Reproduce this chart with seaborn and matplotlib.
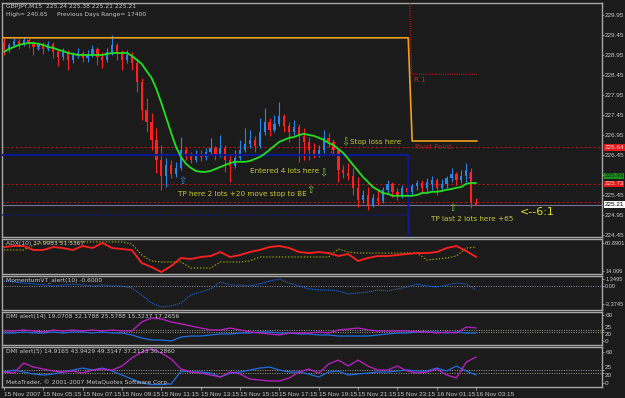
import matplotlib
matplotlib.use("Agg")
import matplotlib.pyplot as plt
import matplotlib.transforms as mtransforms
import numpy as np
import pandas as pd
import seaborn as sns

sns.set_theme(style="dark")
plt.rcParams['font.family'] = ['DejaVu Sans']
NARROW = ['Liberation Sans Narrow', 'Liberation Sans', 'DejaVu Sans']

# ---------------- data (GBPJPY M15, 15 Nov 2007 03:15 -> 16 Nov 03:15) ----------------
opens = [229.28, 229.08, 229.20, 229.30, 229.20, 229.33, 229.25, 229.15, 229.23, 229.10,
         229.23, 229.03, 228.90, 229.03, 228.83, 228.95, 229.00, 228.88, 228.98, 229.10,
         228.90, 228.83, 229.03, 229.20, 228.98, 228.83, 228.95, 228.75, 228.28, 227.58,
         227.28, 226.83, 226.33, 225.93, 226.20, 225.98, 226.13, 226.58, 226.43, 226.33,
         226.48, 226.40, 226.53, 226.63, 226.45, 226.63, 226.33, 226.18, 226.38, 226.58,
         226.73, 226.83, 226.68, 227.03, 227.28, 227.08, 227.23, 227.43, 227.18, 227.03,
         227.15, 226.93, 226.78, 226.58, 226.45, 226.58, 226.88, 226.78, 226.58, 226.08,
         226.00, 225.93, 225.63, 225.33, 225.45, 225.20, 225.38, 225.30, 225.58, 225.73,
         225.53, 225.45, 225.63, 225.53, 225.68, 225.75, 225.63, 225.73, 225.83, 225.63,
         225.73, 225.88, 225.98, 225.83, 225.93, 226.03, 225.24]
highs = [229.38, 229.25, 229.38, 229.35, 229.40, 229.38, 229.30, 229.28, 229.28, 229.30,
         229.28, 229.10, 229.13, 229.08, 229.03, 229.13, 229.05, 229.08, 229.20, 229.15,
         229.03, 229.13, 229.45, 229.25, 229.08, 229.08, 229.03, 228.88, 228.38, 227.88,
         227.50, 227.13, 226.70, 226.38, 226.33, 226.28, 226.90, 226.65, 226.53, 226.58,
         226.58, 226.63, 226.88, 226.68, 226.95, 226.70, 226.45, 226.58, 226.83, 227.13,
         227.08, 226.93, 227.38, 227.63, 227.38, 227.45, 227.78, 227.48, 227.28, 227.33,
         227.23, 227.13, 226.90, 226.75, 226.70, 227.08, 227.00, 226.85, 226.63, 226.20,
         226.25, 226.13, 225.90, 225.58, 225.65, 225.48, 225.58, 225.65, 225.83, 225.78,
         225.63, 225.70, 225.68, 225.73, 225.83, 225.83, 225.88, 225.93, 225.88, 225.85,
         225.93, 226.13, 226.03, 226.08, 226.25, 226.13, 225.38]
lows = [228.95, 229.03, 229.15, 229.10, 229.18, 229.13, 228.95, 229.08, 228.98, 229.05,
        228.88, 228.68, 228.83, 228.58, 228.75, 228.88, 228.78, 228.78, 228.90, 228.70,
        228.63, 228.78, 228.95, 228.83, 228.58, 228.75, 228.58, 228.03, 227.33, 227.03,
        226.58, 226.00, 225.58, 225.65, 225.88, 225.90, 226.08, 226.33, 226.25, 226.28,
        226.30, 226.33, 226.45, 226.33, 226.40, 226.03, 225.78, 226.13, 226.33, 226.53,
        226.63, 226.53, 226.63, 226.95, 226.93, 227.03, 227.18, 227.03, 226.78, 226.95,
        226.28, 226.33, 226.33, 226.38, 226.40, 226.50, 226.65, 226.45, 225.78, 225.88,
        225.83, 225.45, 225.15, 225.25, 225.08, 225.15, 225.20, 225.25, 225.50, 225.40,
        225.33, 225.38, 225.43, 225.45, 225.58, 225.50, 225.53, 225.58, 225.45, 225.58,
        225.63, 225.78, 225.70, 225.75, 225.78, 225.13, 225.21]
closes = [229.08, 229.20, 229.30, 229.20, 229.33, 229.25, 229.15, 229.23, 229.10, 229.23,
          229.03, 228.90, 229.03, 228.83, 228.95, 229.00, 228.88, 228.98, 229.10, 228.90,
          228.83, 229.03, 229.20, 228.98, 228.83, 228.95, 228.75, 228.28, 227.58, 227.28,
          226.83, 226.33, 225.93, 226.20, 225.98, 226.13, 226.58, 226.43, 226.33, 226.48,
          226.40, 226.53, 226.63, 226.45, 226.63, 226.33, 226.18, 226.38, 226.58, 226.73,
          226.83, 226.68, 227.03, 227.28, 227.08, 227.23, 227.43, 227.18, 227.03, 227.15,
          226.93, 226.78, 226.58, 226.45, 226.58, 226.88, 226.78, 226.58, 226.08, 226.00,
          225.93, 225.63, 225.33, 225.45, 225.20, 225.38, 225.30, 225.58, 225.73, 225.53,
          225.45, 225.63, 225.53, 225.68, 225.75, 225.63, 225.78, 225.83, 225.63, 225.73,
          225.88, 225.98, 225.83, 225.93, 226.08, 225.25, 225.21]
ma_line = [229.03, 229.10, 229.15, 229.20, 229.23, 229.25, 229.25, 229.23, 229.20, 229.15,
           229.13, 229.08, 229.05, 229.00, 228.98, 228.95, 228.95, 228.95, 228.95, 228.95,
           228.95, 228.98, 229.00, 229.00, 229.00, 229.00, 228.93, 228.83, 228.73, 228.55,
           228.38, 228.10, 227.75, 227.38, 227.00, 226.65, 226.40, 226.23, 226.13, 226.05,
           226.03, 226.03, 226.05, 226.10, 226.15, 226.20, 226.25, 226.28, 226.28, 226.28,
           226.30, 226.35, 226.40, 226.48, 226.58, 226.68, 226.78, 226.83, 226.88, 226.90,
           226.95, 226.98, 226.95, 226.93, 226.88, 226.83, 226.75, 226.70, 226.60, 226.50,
           226.35, 226.20, 226.05, 225.90, 225.78, 225.65, 225.58, 225.50, 225.48, 225.43,
           225.43, 225.43, 225.43, 225.43, 225.45, 225.50, 225.50, 225.53, 225.53, 225.55,
           225.58, 225.60, 225.63, 225.65, 225.73, 225.75, 225.75]

# daily levels (previous day -> new day from bar 83 = 16 Nov 00:00)
day_break = 83
last_bar = 96
pivot_levels = [229.38, 226.80]
r1_levels = [231.20, 228.47]
level_a = [226.45, 223.80]
level_b = [224.95, 223.80]
hlines_red = [226.64, 225.73, 225.28]
bid_price = 225.21

price_ticks = [229.95, 229.45, 228.95, 228.45, 227.95, 227.45, 226.95, 226.45,
               225.95, 225.45, 224.95, 224.45]
hidden_ticks = [225.95]
boxed_prices = ["226.64", "225.93", "225.73", "225.21"]
boxed_values = [226.64, 225.93, 225.73, 225.21]

# indicators sampled every second bar
adx_main = [54.2, 55.9, 55.9, 49.2, 49.2, 54.2, 52.5, 49.2, 55.9, 52.5,
            60.9, 52.5, 50.8, 49.2, 27.4, 20.7, 12.3, 22.4, 35.8, 34.1,
            37.5, 39.1, 45.8, 37.5, 40.8, 45.8, 49.2, 54.2, 55.9, 52.5,
            45.8, 44.1, 45.8, 44.1, 39.1, 42.5, 30.8, 35.8, 39.1, 39.1,
            40.8, 42.5, 44.1, 44.1, 45.8, 52.5, 55.9, 47.5, 37.5]
adx_signal = [49.2, 49.2, 49.2, 57.5, 62.6, 62.6, 62.6, 62.6, 62.6, 62.6,
              62.6, 62.6, 62.6, 59.2, 40.8, 30.8, 29.1, 29.1, 29.1, 19.0,
              19.0, 19.0, 29.1, 29.1, 29.1, 30.8, 37.5, 37.5, 37.5, 37.5,
              37.5, 37.5, 37.5, 37.5, 50.8, 45.8, 44.1, 44.1, 44.1, 44.1,
              44.1, 44.1, 44.1, 32.4, 34.1, 35.8, 39.1, 52.5, 54.2]
momentum = [0.94, 0.75, 0.56, 0.38, 0.19, 0.0, 0.19, 0.38, 0.19, 0.0,
            0.19, 0.0, 0.0, -0.38, -1.69, -3.19, -3.94, -3.75, -3.19, -1.69,
            -1.13, -0.56, 0.75, 0.19, 0.19, 0.0, 0.38, 0.94, 1.31, 0.56,
            0.0, -0.56, -0.75, -0.75, -0.94, -1.5, -1.31, -1.13, -0.75, -0.94,
            -0.56, -0.19, 0.38, 0.0, -0.19, 0.19, 0.56, 0.38, -0.75]
dmi14_plus = [23.1, 23.1, 25.4, 23.1, 20.8, 25.4, 23.1, 25.4, 23.1, 25.4,
              23.1, 25.4, 23.1, 23.1, 43.9, 53.1, 50.8, 43.9, 39.3, 34.6,
              30.0, 25.4, 25.4, 30.0, 25.4, 20.8, 18.5, 16.2, 13.9, 18.5,
              18.5, 18.5, 20.8, 18.5, 25.4, 27.7, 30.0, 25.4, 23.1, 23.1,
              23.1, 23.1, 20.8, 20.8, 18.5, 20.8, 18.5, 32.3, 30.0]
dmi14_minus = [18.5, 18.5, 20.8, 18.5, 18.5, 20.8, 18.5, 20.8, 20.8, 18.5,
               20.8, 18.5, 18.5, 13.9, 6.9, 2.3, 2.3, 0.0, 9.2, 11.5,
               11.5, 13.9, 16.2, 16.2, 18.5, 18.5, 20.8, 20.8, 18.5, 18.5,
               16.2, 16.2, 13.9, 13.9, 11.5, 11.5, 11.5, 11.5, 13.9, 16.2,
               18.5, 18.5, 20.8, 20.8, 20.8, 18.5, 20.8, 18.5, 18.5]
dmi5_plus = [21.3, 19.3, 38.7, 30.9, 27.1, 23.2, 21.3, 23.2, 19.3, 25.1,
             27.1, 25.1, 32.9, 48.4, 60.0, 65.8, 58.0, 46.4, 27.1, 21.3,
             19.3, 15.5, 11.6, 21.3, 17.4, 7.7, 5.8, 3.9, 3.9, 9.7,
             21.3, 27.1, 19.3, 36.8, 44.5, 32.9, 44.5, 32.9, 25.1, 25.1,
             32.9, 23.2, 19.3, 21.3, 27.1, 15.5, 9.7, 40.6, 50.3]
dmi5_minus = [21.3, 25.1, 21.3, 17.4, 15.5, 17.4, 21.3, 25.1, 29.0, 25.1,
              29.0, 23.2, 15.5, 7.7, 0.0, -3.0, -3.0, -1.9, 23.2, 21.3,
              21.3, 19.3, 11.6, 19.3, 21.3, 25.1, 29.0, 30.9, 25.1, 21.3,
              21.3, 17.4, 11.6, 21.3, 23.2, 15.5, 17.4, 19.3, 21.3, 21.3,
              23.2, 25.1, 23.2, 23.2, 29.0, 23.2, 32.9, 23.2, 15.5]

time_labels = ["15 Nov 2007", "15 Nov 05:15", "15 Nov 07:15", "15 Nov 09:15",
               "15 Nov 11:15", "15 Nov 13:15", "15 Nov 15:15", "15 Nov 17:15",
               "15 Nov 19:15", "15 Nov 21:15", "15 Nov 23:15", "16 Nov 01:15",
               "16 Nov 03:15"]
time_label_bars = [0, 8, 16, 24, 32, 40, 48, 56, 64, 72, 80, 88, 96]

# ---------------- styling ----------------
BG = '#1b1b1b'
FRAME = '#a8a8a8'
TXT = '#c8c8c8'
RED = '#ff2020'
BLUE = '#2a86e6'
NOTE = '#c8c83c'
W, H = 625, 398
XMIN, XMAX = -0.4, 121.6

fig = plt.figure(figsize=(W / 100, H / 100), dpi=100, facecolor=BG)


def panel(top, bottom, labelsize=4.6):
    ax = fig.add_axes([2 / W, 1 - bottom / H, 600 / W, (bottom - top) / H])
    ax.set_facecolor(BG)
    for s in ax.spines.values():
        s.set_color(FRAME)
        s.set_linewidth(1.0)
    ax.grid(False)
    ax.set_xlim(XMIN, XMAX)
    ax.yaxis.tick_right()
    ax.tick_params(axis='x', bottom=False, labelbottom=False)
    ax.tick_params(axis='y', right=True, left=False, labelleft=False, labelright=True,
                   length=1.5, width=0.6, color=FRAME, labelsize=labelsize, labelcolor=TXT,
                   pad=0.8, direction='out')
    return ax


def narrow_labels(ax):
    for t in ax.get_yticklabels():
        t.set_fontfamily(NARROW)


bars = np.arange(len(closes))
df = pd.DataFrame({'bar': bars, 'open': opens, 'high': highs, 'low': lows,
                   'close': closes, 'ma': ma_line})

# ---------------- main price panel ----------------
ax = panel(3, 237)
ax.set_ylim(224.40, 230.25)
ax.set_yticks(price_ticks)
ax.set_yticklabels(["" if p in hidden_ticks else f"{p:.2f}" for p in price_ticks])
narrow_labels(ax)

for p in hlines_red:
    ax.axhline(p, color='#b01414', lw=0.8, ls=(0, (2, 2)), zorder=1)
ax.axhline(bid_price, color='#70709a', lw=0.8, zorder=1)

up = df['close'] >= df['open']
cols = np.where(up, BLUE, RED)
ax.vlines(df['bar'], df['low'], df['high'], colors=cols, lw=0.8, zorder=3)
body = (df['close'] - df['open']).where((df['close'] - df['open']).abs() > 0.01, 0.01)
ax.bar(df['bar'], body, bottom=df['open'], width=0.45, color=cols, linewidth=0, zorder=3)

# daily levels
pv_x = [XMIN, day_break - 0.8, day_break, last_bar + 0.2]
ax.plot(pv_x, [pivot_levels[0], pivot_levels[0], pivot_levels[1], pivot_levels[1]],
        color='#f0a020', lw=1.2, zorder=4)
ax.plot([day_break - 0.7, day_break - 0.1, last_bar + 0.2],
        [r1_levels[0], r1_levels[1], r1_levels[1]],
        color='#c01a1a', lw=0.8, ls=(0, (1, 1)), zorder=4)
ax.plot([XMIN, day_break - 0.8, day_break - 0.7], [level_a[0], level_a[0], level_a[1]],
        color='#0c1a8c', lw=1.6, zorder=4)
ax.plot([XMIN, day_break - 0.6, day_break - 0.5], [level_b[0], level_b[0], level_b[1]],
        color='#0c1a8c', lw=1.0, ls=(0, (1, 1)), zorder=4)

sns.lineplot(data=df, x='bar', y='ma', ax=ax, color='#22e022', lw=1.3, legend=False, zorder=5)
ax.set_xlabel('')
ax.set_ylabel('')

blend = mtransforms.blended_transform_factory(ax.transAxes, ax.transData)
box_style = [('#e01818', '#ffd0d0'), ('#1c8c1c', '#103010'), ('#e01818', '#ffd0d0'),
             ('#ffffff', '#000000')]
for lab, val, (bg, fg) in zip(boxed_prices, boxed_values, box_style):
    ax.text(1.004, val, lab, transform=blend, fontsize=4.6, color=fg, va='center', ha='left',
            family=NARROW, bbox=dict(facecolor=bg, edgecolor='none', pad=0.5),
            clip_on=False, zorder=10)

ax.text(0.006, 0.995, "GBPJPY,M15  225.24 225.38 225.21 225.21", transform=ax.transAxes,
        fontsize=4.3, color=TXT, va='top', ha='left')
ax.text(0.006, 0.96, "High= 240.65     Previous Days Range= 17400", transform=ax.transAxes,
        fontsize=4.3, color=TXT, va='top', ha='left')

ax.text(83.4, 228.33, "R 1", fontsize=5, color='#c82828', va='center')
ax.text(83.6, 226.65, "Pivot Point", fontsize=5, color='#a82020', va='center')
ax.text(70.4, 226.77, "Stop loss here", fontsize=5.2, color=NOTE, va='center')
ax.text(50.1, 226.05, "Entered 4 lots here", fontsize=5.2, color=NOTE, va='center')
ax.text(35.4, 225.48, "TP here 2 lots +20 move stop to BE", fontsize=5.2, color=NOTE, va='center')
ax.text(86.8, 224.85, "TP last 2 lots here +65", fontsize=5.2, color=NOTE, va='center')
ax.text(105.0, 225.03, "<--6:1", fontsize=8, color='#e0e020', va='center')
ax.text(69.5, 226.76, "⇩", fontsize=7, color='#7ac83c', va='center', ha='center')
ax.text(64.9, 225.98, "⇩", fontsize=7, color='#7ac83c', va='center', ha='center')
ax.text(62.3, 225.57, "⇧", fontsize=7, color='#7ac83c', va='center', ha='center')
ax.text(91.1, 225.12, "⇧", fontsize=7, color='#7ac83c', va='center', ha='center')
ax.text(36.3, 225.80, "⇧", fontsize=7, color='#3a8ae6', va='center', ha='center')
for bx, by in [(7, 229.13), (66.8, 226.52), (94.7, 225.90)]:
    ax.text(bx, by, "⇩", fontsize=6, color='#e020e0', va='center', ha='center')

ind = pd.DataFrame({'bar': bars[::2], 'adx': adx_main, 'sig': adx_signal, 'mom': momentum,
                    'p14': dmi14_plus, 'm14': dmi14_minus, 'p5': dmi5_plus, 'm5': dmi5_minus})

# ---------------- panel 2 ----------------
ax2 = panel(239.3, 274, labelsize=4.1)
ax2.set_ylim(9.0, 67.1)
ax2.set_yticks([60.8901, 14.006])
ax2.set_yticklabels(["60.8901", "14.006"])
narrow_labels(ax2)
sns.lineplot(data=ind, x='bar', y='sig', ax=ax2, color='#a8a800', lw=0.9, ls=(0, (1, 1.5)), legend=False)
sns.lineplot(data=ind, x='bar', y='adx', ax=ax2, color=RED, lw=1.3, legend=False)
ax2.set_xlabel(''); ax2.set_ylabel('')
ax2.text(0.006, 0.95, "ADX(10) 37.9983 51.5367", transform=ax2.transAxes,
         fontsize=4.3, color=TXT, va='top', ha='left')

# ---------------- panel 3 ----------------
ax3 = panel(275.7, 310, labelsize=4.1)
ax3.set_ylim(-4.5, 1.93)
ax3.set_yticks([1.3495, 0.0, -3.3745])
ax3.set_yticklabels(["1.3495", "0.00", "-3.3745"])
narrow_labels(ax3)
ax3.axhline(0, color='#8a8aa8', lw=0.7, ls=(0, (1, 1.5)))
sns.lineplot(data=ind, x='bar', y='mom', ax=ax3, color='#1e64d2', lw=0.8, ls=(0, (1, 0.8)), legend=False)
ax3.set_xlabel(''); ax3.set_ylabel('')
ax3.text(0.006, 0.95, "MomentumVT_alert(10) -0.6000", transform=ax3.transAxes,
         fontsize=4.3, color=TXT, va='top', ha='left')

# ---------------- panels 4, 5 ----------------
def dmi_panel(top, bottom, lo, hi, plus, minus, label):
    a = panel(top, bottom)
    a.set_ylim(lo, hi)
    a.set_yticks([60, 25, 20, 0])
    a.set_yticklabels(["60", "25", "20", "0"])
    narrow_labels(a)
    tl = a.get_yticklabels()
    tl[1].set_verticalalignment('bottom')
    tl[2].set_verticalalignment('top')
    a.axhline(25, color='#a0a0a0', lw=0.7, ls=(0, (1, 1.5)))
    a.axhline(20, color='#a0a080', lw=0.7, ls=(0, (1, 1.5)))
    sns.lineplot(data=ind, x='bar', y=minus, ax=a, color='#1e6ee0', lw=0.9, legend=False)
    sns.lineplot(data=ind, x='bar', y=plus, ax=a, color='#c020c8', lw=0.9, legend=False)
    a.set_xlabel(''); a.set_ylabel('')
    a.text(0.006, 0.95, label, transform=a.transAxes, fontsize=4.3, color=TXT,
           va='top', ha='left')
    return a


ax4 = dmi_panel(312, 345, -9.2, 66.9, 'p14', 'm14',
                "DMI alert(14) 19.0708 32.1788 25.5788 15.3237 17.2656")
ax5 = dmi_panel(347, 387, -7.7, 69.7, 'p5', 'm5',
                "DMI alert(5) 14.9165 43.9429 49.3147 37.2123 30.2860")
ax5.text(0.006, 0.06, "MetaTrader, © 2001-2007 MetaQuotes Software Corp.",
         transform=ax5.transAxes, fontsize=4.3, color=TXT, va='bottom', ha='left')

ax5.set_xticks(time_label_bars)
ax5.set_xticklabels(time_labels)
ax5.tick_params(axis='x', bottom=True, labelbottom=True, length=2.5, width=0.6, color=FRAME,
                labelsize=4.6, labelcolor=TXT, pad=1.0, direction='out')
for t in ax5.get_xticklabels():
    t.set_horizontalalignment('left')
    t.set_fontfamily(NARROW)

fig.savefig("out.png", dpi=100, facecolor=BG)
